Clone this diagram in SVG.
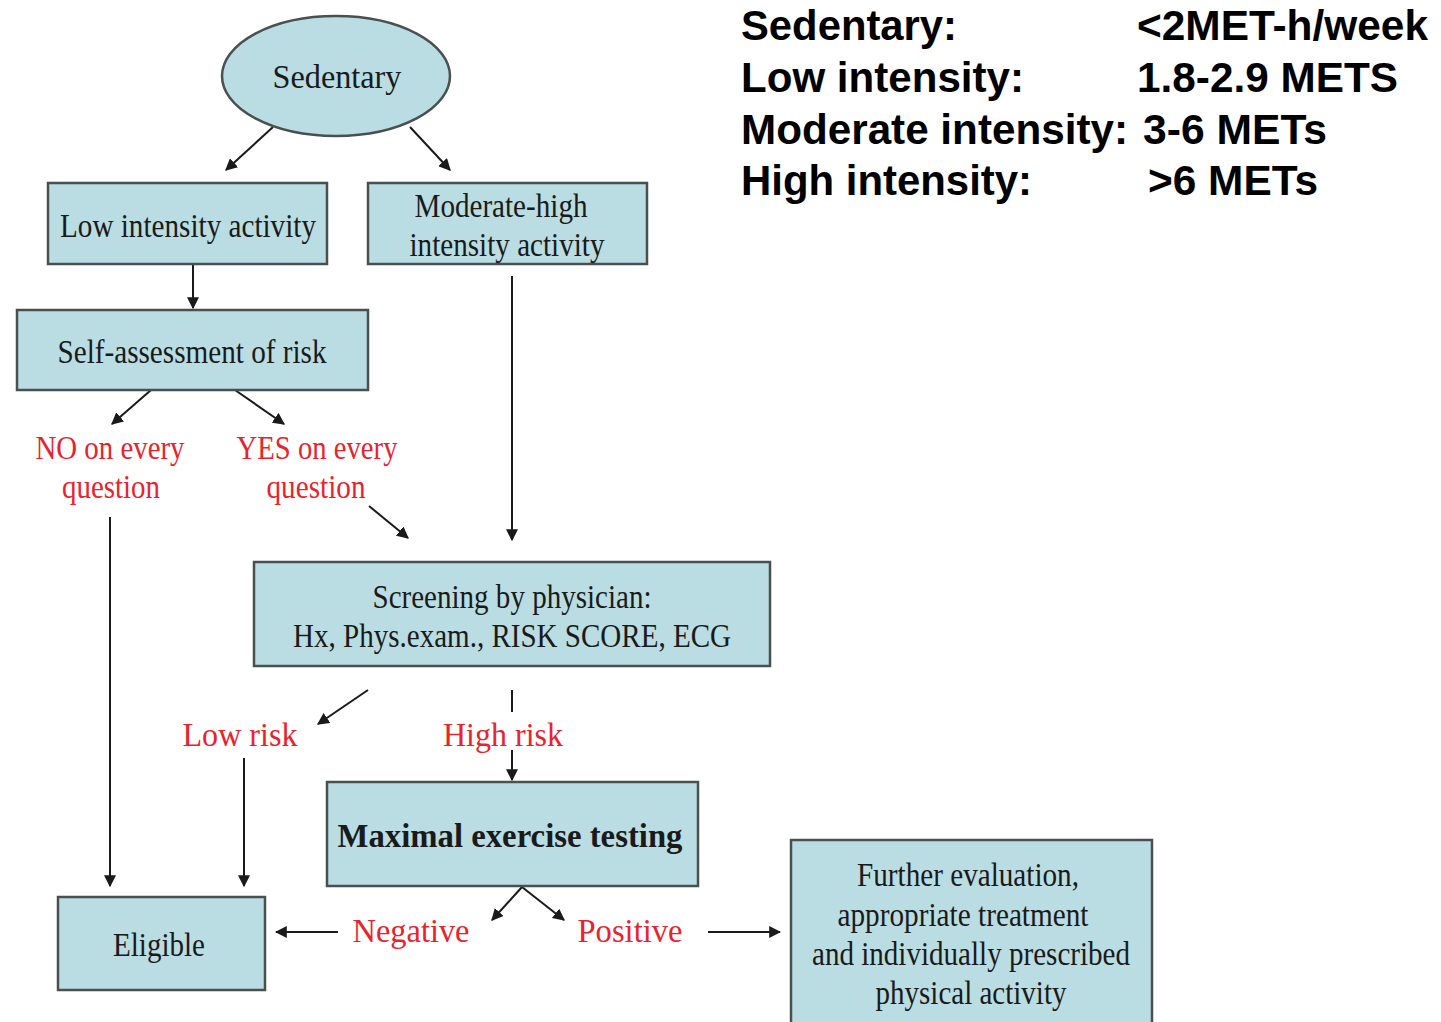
<svg xmlns="http://www.w3.org/2000/svg" width="1441" height="1022" viewBox="0 0 1441 1022">
<defs>
<style>
.box{fill:#b9dde2;stroke:#4a4f50;stroke-width:2.5}
.t{font-family:"Liberation Serif","Times New Roman",serif;font-size:34px;fill:#1a1a1a;text-anchor:middle}
.r{font-family:"Liberation Serif","Times New Roman",serif;font-size:34px;fill:#e8232e;text-anchor:middle}
.b{font-weight:bold}
.leg{font-family:"Liberation Sans",Arial,sans-serif;font-size:42px;font-weight:bold;fill:#000}
.c{stroke:#1a1a1a;stroke-width:2;fill:none;marker-end:url(#ah)}
.cn{stroke:#1a1a1a;stroke-width:2;fill:none}
</style>
<marker id="ah" viewBox="0 0 10 10" refX="9" refY="5" markerWidth="12" markerHeight="12" markerUnits="userSpaceOnUse" orient="auto">
<path d="M0,0 L10,5 L0,10 Z" fill="#1a1a1a"/>
</marker>
</defs>
<rect width="1441" height="1022" fill="#ffffff"/>

<g id="connectors">
<line class="c" x1="273" y1="127" x2="226" y2="170"/>
<line class="c" x1="410" y1="127" x2="450" y2="170"/>
<line class="c" x1="193" y1="264" x2="193" y2="308"/>
<line class="c" x1="512" y1="276" x2="512" y2="540"/>
<line class="c" x1="151" y1="390" x2="112" y2="424"/>
<line class="c" x1="235" y1="390" x2="284" y2="424"/>
<line class="c" x1="369" y1="506" x2="408" y2="538"/>
<line class="c" x1="110" y1="517" x2="110" y2="886"/>
<line class="c" x1="368" y1="690" x2="318" y2="724"/>
<line class="cn" x1="512" y1="690" x2="512" y2="712"/>
<line class="c" x1="512" y1="750" x2="512" y2="780"/>
<line class="c" x1="244" y1="758" x2="244" y2="886"/>
<line class="c" x1="522" y1="887" x2="492" y2="920"/>
<line class="c" x1="522" y1="887" x2="564" y2="920"/>
<line class="c" x1="338" y1="932" x2="276" y2="932"/>
<line class="c" x1="708" y1="932" x2="780" y2="932"/>
</g>

<g id="sedentary">
<ellipse class="box" cx="336" cy="76" rx="114" ry="60"/>
<text class="t" x="337" y="88" textLength="129" lengthAdjust="spacingAndGlyphs">Sedentary</text>
</g>

<g id="low-intensity">
<rect class="box" x="48" y="183" width="279" height="81"/>
<text class="t" x="188" y="237" textLength="256" lengthAdjust="spacingAndGlyphs">Low intensity activity</text>
</g>

<g id="moderate-high">
<rect class="box" x="368" y="183" width="279" height="81"/>
<text class="t" x="501" y="217" textLength="173" lengthAdjust="spacingAndGlyphs">Moderate-high</text>
<text class="t" x="507" y="256" textLength="195" lengthAdjust="spacingAndGlyphs">intensity activity</text>
</g>

<g id="self-assessment">
<rect class="box" x="17" y="310" width="351" height="80"/>
<text class="t" x="192" y="363" textLength="269" lengthAdjust="spacingAndGlyphs">Self-assessment of risk</text>
</g>

<g id="no-label">
<text class="r" x="110" y="459" textLength="149" lengthAdjust="spacingAndGlyphs">NO on every</text>
<text class="r" x="111" y="498" textLength="98" lengthAdjust="spacingAndGlyphs">question</text>
</g>

<g id="yes-label">
<text class="r" x="317" y="459" textLength="161" lengthAdjust="spacingAndGlyphs">YES on every</text>
<text class="r" x="316" y="498" textLength="99" lengthAdjust="spacingAndGlyphs">question</text>
</g>

<g id="screening">
<rect class="box" x="254" y="562" width="516" height="104"/>
<text class="t" x="512" y="608" textLength="279" lengthAdjust="spacingAndGlyphs">Screening by physician:</text>
<text class="t" x="512" y="647" textLength="438" lengthAdjust="spacingAndGlyphs">Hx, Phys.exam., RISK SCORE, ECG</text>
</g>

<g id="low-risk">
<text class="r" x="240" y="746" textLength="115" lengthAdjust="spacingAndGlyphs">Low risk</text>
</g>

<g id="high-risk">
<text class="r" x="503" y="746" textLength="120" lengthAdjust="spacingAndGlyphs">High risk</text>
</g>

<g id="maximal-testing">
<rect class="box" x="327" y="782" width="371" height="104"/>
<text class="t b" x="510" y="847" textLength="345" lengthAdjust="spacingAndGlyphs">Maximal exercise testing</text>
</g>

<g id="eligible">
<rect class="box" x="58" y="897" width="207" height="93"/>
<text class="t" x="159" y="956" textLength="92" lengthAdjust="spacingAndGlyphs">Eligible</text>
</g>

<g id="negative">
<text class="r" x="411" y="942" textLength="117" lengthAdjust="spacingAndGlyphs">Negative</text>
</g>

<g id="positive">
<text class="r" x="630" y="942" textLength="105" lengthAdjust="spacingAndGlyphs">Positive</text>
</g>

<g id="further-evaluation">
<rect class="box" x="791" y="840" width="361" height="190"/>
<text class="t" x="968" y="886" textLength="222" lengthAdjust="spacingAndGlyphs">Further evaluation,</text>
<text class="t" x="963" y="926" textLength="251" lengthAdjust="spacingAndGlyphs">appropriate treatment</text>
<text class="t" x="971" y="965" textLength="318" lengthAdjust="spacingAndGlyphs">and individually prescribed</text>
<text class="t" x="971" y="1004" textLength="191" lengthAdjust="spacingAndGlyphs">physical activity</text>
</g>

<g id="legend">
<text class="leg" x="741" y="40" textLength="216" lengthAdjust="spacingAndGlyphs">Sedentary:</text>
<text class="leg" x="1137" y="40" textLength="291" lengthAdjust="spacingAndGlyphs">&lt;2MET-h/week</text>
<text class="leg" x="741" y="92" textLength="283" lengthAdjust="spacingAndGlyphs">Low intensity:</text>
<text class="leg" x="1137" y="92" textLength="261" lengthAdjust="spacingAndGlyphs">1.8-2.9 METS</text>
<text class="leg" x="741" y="144" textLength="387" lengthAdjust="spacingAndGlyphs">Moderate intensity:</text>
<text class="leg" x="1143" y="144" textLength="184" lengthAdjust="spacingAndGlyphs">3-6 METs</text>
<text class="leg" x="741" y="195" textLength="291" lengthAdjust="spacingAndGlyphs">High intensity:</text>
<text class="leg" x="1148" y="195" textLength="170" lengthAdjust="spacingAndGlyphs">&gt;6 METs</text>
</g>
</svg>
